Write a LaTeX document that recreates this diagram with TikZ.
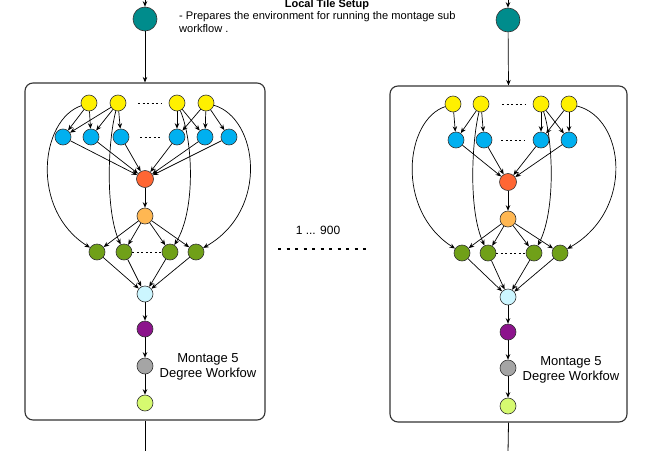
\documentclass[tikz,border=0pt]{standalone}
\usepackage{fontspec}
\setmainfont{Liberation Sans}
\usetikzlibrary{arrows.meta}

\definecolor{tealc}{RGB}{0,140,140}
\definecolor{yelc}{RGB}{255,240,0}
\definecolor{bluc}{RGB}{0,176,240}
\definecolor{redc}{RGB}{255,102,51}
\definecolor{orac}{RGB}{255,183,82}
\definecolor{grnc}{RGB}{112,160,24}
\definecolor{cyac}{RGB}{204,246,255}
\definecolor{purc}{RGB}{140,20,140}
\definecolor{gryc}{RGB}{165,165,165}
\definecolor{limc}{RGB}{214,250,112}

\begin{document}
\begin{tikzpicture}[x=1pt,y=-1pt,>={Stealth[length=5.5pt,width=4.5pt]},
  every node/.style={inner sep=0pt},
  ball/.style={circle,draw=black!80,line width=0.6pt,minimum size=16pt},
  yel/.style={ball,fill=yelc}, blu/.style={ball,fill=bluc},
  red/.style={ball,fill=redc,minimum size=17pt}, ora/.style={ball,fill=orac},
  grn/.style={ball,fill=grnc}, cya/.style={ball,fill=cyac},
  pur/.style={ball,fill=purc}, gry/.style={ball,fill=gryc},
  lim/.style={ball,fill=limc},
  setup/.style={ball,fill=tealc,minimum size=24pt},
  tile/.style={draw=black!80,line width=1.1pt,rounded corners=8pt},
  lnk/.style={->,line width=0.7pt},
  dotrow/.style={dashed,dash pattern=on 2pt off 2.5pt,line width=0.6pt},
  lbl/.style={font=\fontsize{13}{15}\selectfont,align=center}]
\useasboundingbox (0,0) rectangle (653,450);

% setup step and its note
\node[setup] (lset) at (145,19) {};
\node[setup] (rset) at (508,20) {};
\coordinate (lin) at (145,-3);
\coordinate (rin) at (508,-3);
\draw[lnk] (lin) -- (lset);
\draw[lnk] (rin) -- (rset);
\node[anchor=base,font=\fontsize{11}{13}\selectfont\bfseries] (title) at (327,7.5) {Local Tile Setup};
\node[anchor=north west,align=left,font=\fontsize{11.1}{13}\selectfont] (note) at (179,11.5)
  {- Prepares the environment for running the montage sub\\workflow .};

% left sub workflow
\node[tile,minimum width=240pt,minimum height=337pt] (lbox) at (145,251.5) {};
\draw[lnk] (lset) -- (lbox.north);
\coordinate (lout) at (145,453);
\draw[line width=0.8pt] (lbox.south) -- (lout);

\foreach \x [count=\i] in {89,118,177,206}
	\node[yel] (ly\i) at (\x,103) {};
\foreach \x [count=\i] in {63,91,121,177,205,229}
	\node[blu] (lb\i) at (\x,137) {};
\node[red] (lred) at (145,179) {};
\node[ora] (lora) at (145,216) {};
\foreach \x [count=\i] in {97,124,170,196}
	\node[grn] (lg\i) at (\x,252) {};
\node[cya] (lcya) at (145,294) {};
\node[pur] (lpur) at (145,329) {};
\node[gry] (lgry) at (145,366) {};
\node[lim] (llim) at (145,403) {};
\node[lbl] (lname) at (208,367) {Montage 5\\Degree Workfow};

\draw[dotrow] (138,103) -- (162,103);
\draw[dotrow] (140,137) -- (162,137);
\draw[dotrow] (lg2) -- (lg3);

\foreach \a/\b in {1/1,1/2,2/1,2/2,2/3,3/4,3/5,4/4,4/5,4/6}
	\draw[lnk] (ly\a) -- (lb\b);
\foreach \b in {1,...,6}
	\draw[lnk] (lb\b) -- (lred);
\draw[lnk] (lred) -- (lora);
\foreach \g in {1,...,4} {
	\draw[lnk] (lora) -- (lg\g);
	\draw[lnk] (lg\g) -- (lcya);
}
\draw[lnk] (ly1) .. controls (40,120) and (30,210) .. (lg1);
\draw[lnk] (ly2) .. controls (108,140) and (105,210) .. (lg2);
\draw[lnk] (ly3) .. controls (193,140) and (196,210) .. (lg3);
\draw[lnk] (ly4) .. controls (258,118) and (270,210) .. (lg4);
\draw[lnk] (lcya) -- (lpur);
\draw[lnk] (lpur) -- (lgry);
\draw[lnk] (lgry) -- (llim);

% between the two
\node[anchor=base,font=\fontsize{12}{14}\selectfont] (count) at (318,234) {1 ... 900};
\draw[line width=1.5pt,dash pattern=on 3pt off 5.5pt] (278,249) -- (368,249);

% right sub workflow
\node[tile,minimum width=237pt,minimum height=336pt] (rbox) at (508.5,254) {};
\draw[lnk] (rset) -- (rbox.north);
\coordinate (rout) at (508,453);
\draw[line width=0.8pt] (rbox.south) -- (rout);

\foreach \x [count=\i] in {453,481,541,569}
	\node[yel] (ry\i) at (\x,104) {};
\foreach \x [count=\i] in {456,484,541,569}
	\node[blu] (rb\i) at (\x,140) {};
\node[red] (rred) at (508,182) {};
\node[ora] (rora) at (508,219) {};
\foreach \x [count=\i] in {462,488,534,560}
	\node[grn] (rg\i) at (\x,253) {};
\node[cya] (rcya) at (508,297) {};
\node[pur] (rpur) at (508,332) {};
\node[gry] (rgry) at (508,368) {};
\node[lim] (rlim) at (508,406) {};
\node[lbl] (rname) at (571,370) {Montage 5\\Degree Workfow};

\draw[dotrow] (502,104) -- (525,104);
\draw[dotrow] (501,140) -- (525,140);
\draw[dotrow] (rg2) -- (rg3);

\foreach \a/\b in {1/1,2/1,2/2,3/3,3/4,4/3,4/4}
	\draw[lnk] (ry\a) -- (rb\b);
\foreach \b in {1,...,4}
	\draw[lnk] (rb\b) -- (rred);
\draw[lnk] (rred) -- (rora);
\foreach \g in {1,...,4} {
	\draw[lnk] (rora) -- (rg\g);
	\draw[lnk] (rg\g) -- (rcya);
}
\draw[lnk] (ry1) .. controls (405,120) and (395,210) .. (rg1);
\draw[lnk] (ry2) .. controls (472,140) and (468,210) .. (rg2);
\draw[lnk] (ry3) .. controls (553,140) and (556,210) .. (rg3);
\draw[lnk] (ry4) .. controls (625,118) and (635,210) .. (rg4);
\draw[lnk] (rcya) -- (rpur);
\draw[lnk] (rpur) -- (rgry);
\draw[lnk] (rgry) -- (rlim);
\end{tikzpicture}
\end{document}
